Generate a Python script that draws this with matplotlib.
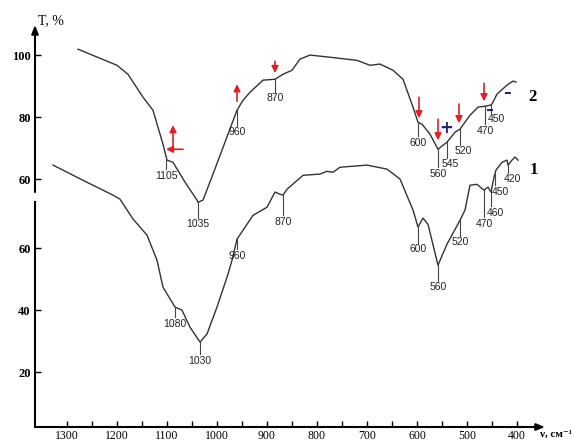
import matplotlib.pyplot as plt
import numpy as np

# IR transmission spectra, wavenumber in cm^-1, T in %
nu1 = [1328, 1268, 1208, 1194, 1168, 1140, 1120, 1108, 1090, 1084, 1070, 1054,
       1034, 1020, 1000, 978, 970, 960, 928, 900, 884, 874, 868, 860, 828, 794,
       780, 768, 754, 700, 660, 634, 608, 598, 588, 578, 558, 540, 514, 504,
       494, 480, 466, 458, 452, 446, 442, 430, 420, 418, 410, 404, 398]
t1 = [86.8, 81.9, 77.1, 75.8, 69.4, 64.2, 56.1, 47.4, 42.6, 41.0, 40.0, 34.5,
      29.7, 32.3, 41.0, 51.6, 56.1, 62.9, 70.6, 73.2, 78.1, 77.4, 77.1, 79.0,
      83.5, 83.9, 84.8, 84.5, 86.1, 86.8, 85.5, 82.3, 72.3, 66.8, 69.7, 67.7,
      54.5, 61.3, 69.0, 72.3, 80.3, 80.6, 78.7, 79.7, 78.1, 82.9, 85.2, 87.7,
      88.4, 86.8, 88.4, 89.4, 88.4]

nu2 = [1278, 1200, 1178, 1148, 1128, 1108, 1100, 1088, 1064, 1040, 1038, 1028,
       1008, 984, 960, 948, 934, 908, 884, 868, 850, 834, 814, 774, 720, 694,
       674, 648, 628, 608, 598, 590, 574, 558, 548, 540, 524, 514, 494, 478,
       464, 454, 450, 440, 420, 408, 402]
t2 = [101.9, 96.7, 93.8, 86.4, 82.2, 71.2, 66.1, 65.4, 59.0, 53.2, 52.5, 53.2,
      61.6, 71.9, 82.2, 85.4, 88.0, 91.9, 92.2, 93.8, 95.1, 98.7, 100.0, 99.3,
      98.3, 96.7, 97.1, 95.1, 92.2, 83.2, 78.3, 77.7, 74.5, 69.6, 70.9, 71.9,
      75.1, 76.1, 80.6, 83.2, 83.5, 83.8, 84.2, 87.4, 90.3, 91.6, 91.3]

OFFSET = 22.3  # curve 2 is shifted up

# band labels: (position, text, leader length, text shift)
bands1 = [(1084, '1080', 3.2, 0), (1034, '1030', 4.0, 0), (960, '960', 3.2, 0),
          (868, '870', 6.5, 0), (598, '600', 5.0, 0), (558, '560', 5.0, 0),
          (514, '520', 5.0, 0), (466, '470', 8.7, 0), (452, '460', 4.5, -8),
          (444, '450', 3.7, -10), (418, '420', 2.5, -8)]
bands2 = [(1102, '1105', 4.2, 0), (1038, '1035', 5.0, 0), (960, '960', 5.0, 0),
          (884, '870', 4.0, 0), (598, '600', 4.5, 0), (558, '560', 5.8, 0),
          (540, '545', 5.0, -6), (514, '520', 5.0, -6), (464, '470', 5.8, 0),
          (452, '450', 2.6, -10)]

# red arrows: (x_tail, y_tail, x_head, y_head)
arrows = [(1088, 91.9, 1088, 99.7), (1068, 91.9, 1102, 91.9),
          (960, 107.4, 960, 112.9), (884, 120.3, 884, 116.5),
          (596, 108.7, 596, 101.9), (558, 101.6, 558, 94.8),
          (516, 106.5, 516, 100.3), (466, 113.2, 466, 107.4)]

serif = ['Liberation Serif', 'DejaVu Serif']
narrow = ['Liberation Sans Narrow', 'Liberation Sans', 'DejaVu Sans']

fig = plt.figure(figsize=(5.74, 4.45), dpi=100)
ax = fig.add_axes([35 / 574, 18 / 445, 510 / 574, 402 / 445])
ax.set_xlim(1364, 344)
ax.set_ylim(2.3, 132.0)

ax.plot(nu1, t1, color='#333333', lw=1.0)
ax.plot(nu2, np.array(t2) + OFFSET, color='#333333', lw=1.0)

for nu_, t_, bands, off in [(nu1, t1, bands1, 0), (nu2, t2, bands2, OFFSET)]:
    for pos, txt, drop, dx in bands:
        yc = np.interp(pos, nu_[::-1], t_[::-1]) + off
        ax.plot([pos, pos], [yc, yc - drop], color='#444444', lw=0.8)
        ax.text(pos + dx, yc - drop - 0.5, txt, ha='center', va='top',
                fontsize=7.5, family=narrow, color='#222222')

for x0, y0, x1, y1 in arrows:
    ax.annotate('', xy=(x1, y1), xytext=(x0, y0),
                arrowprops=dict(arrowstyle='-|>,head_length=0.4,head_width=0.2',
                                color='#e31e24', lw=1.2, shrinkA=0, shrinkB=0))

ax.text(542, 98.7, '+', color='#23238e', fontsize=12, fontweight='bold',
        ha='center', va='center')
ax.text(420, 110.3, '–', color='#23238e', fontsize=11, fontweight='bold',
        ha='center', va='center')
ax.plot([458, 450], [104.5, 104.5], color='#23238e', lw=1.5)

ax.text(370, 108.7, '2', fontsize=12, fontweight='bold', family=serif,
        ha='center', va='center')
ax.text(366, 85.2, '1', fontsize=12, fontweight='bold', family=serif,
        ha='center', va='center')

# axes drawn by hand: arrows and a break in the y axis
for s in ax.spines.values():
    s.set_visible(False)
ax.annotate('', xy=(1.0, 0), xytext=(0, 0), xycoords='axes fraction',
            arrowprops=dict(arrowstyle='-|>,head_length=0.5,head_width=0.2',
                            color='black', lw=1.5, shrinkA=0, shrinkB=0))
ylo, yhi = ax.get_ylim()
ax.plot([0, 0], [ylo, 74.8], color='black', lw=1.5,
        transform=ax.get_yaxis_transform(), clip_on=False)
ax.annotate('', xy=(0, 1.0), xytext=(0, (78.1 - ylo) / (yhi - ylo)),
            xycoords='axes fraction',
            arrowprops=dict(arrowstyle='-|>,head_length=0.5,head_width=0.2',
                            color='black', lw=1.5, shrinkA=0, shrinkB=0))

ax.set_xticks(np.arange(1300, 399, -100))
ax.set_xticks(np.arange(1300, 399, -50), minor=True)
ax.set_xticklabels([str(v) for v in range(1300, 399, -100)], family=serif,
                   fontsize=8.5)
ax.set_yticks([20, 40, 60, 60 + OFFSET, 80 + OFFSET, 100 + OFFSET])
ax.set_yticklabels(['20', '40', '60', '60', '80', '100'], family=serif,
                   fontsize=9, fontweight='bold')
ax.tick_params(axis='x', which='both', direction='in', length=4, width=1,
               pad=2)
ax.tick_params(axis='y', direction='in', length=4, width=1, pad=3)

fig.text(38 / 574, 1 - 21 / 445, 'T, %', family=serif, fontsize=10,
         va='center', ha='left')
fig.text(572 / 574, 1 - 434 / 445, 'ν, см⁻¹', family=serif, fontsize=8,
         va='center', ha='right', fontweight='bold')

fig.savefig('out.png', dpi=100, facecolor='white')
